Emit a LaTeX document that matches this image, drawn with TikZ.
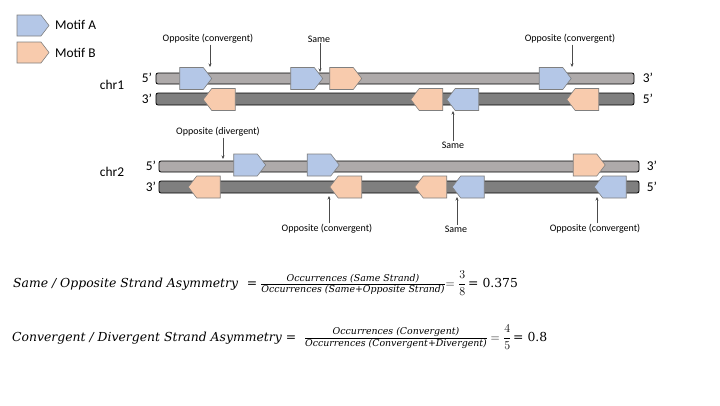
\documentclass[tikz,border=0pt]{standalone}
\usepackage{amsmath}
\usepackage{fontspec}
\setmainfont{Carlito}
\newfontfamily\eqfont{DejaVu Serif}
\usetikzlibrary{shapes.symbols}
\usetikzlibrary{arrows.meta}

\definecolor{motifA}{HTML}{B4C7E7}
\definecolor{motifB}{HTML}{F8CBAD}
\definecolor{motifedge}{HTML}{7F7F7F}
\definecolor{strandlight}{HTML}{AEAAAA}
\definecolor{stranddark}{HTML}{7F7F7F}

\newcommand{\fracfont}{\eqfont\itshape\fontsize{9.4}{10}\selectfont}
\newcommand{\ratio}[2]{$\genfrac{}{}{0.9pt}{1}{\hbox{\fracfont #1}}{\hbox{\fracfont #2}}$}

\begin{document}
\begin{tikzpicture}[x=1pt,y=-1pt, % one unit is one pixel of the reference, y down
    fwd/.style={signal, signal to=east, signal pointer angle=105, draw=motifedge, line width=0.6pt,
        minimum width=32pt, minimum height=22pt, inner sep=0pt, outer sep=0pt},
    rev/.style={fwd, signal to=west},
    topstrand/.style={draw=black, fill=strandlight, line width=0.8pt, rounded corners=2pt},
    botstrand/.style={topstrand, fill=stranddark},
    note/.style={font=\fontsize{10}{11}\selectfont, inner sep=1pt},
    pointer/.style={draw=black!70, line width=0.5pt, -{Stealth[length=3.5pt,width=3pt]}},
    chrlabel/.style={font=\fontsize{13.4}{15}\selectfont, inner sep=0pt},
    eqn/.style={font=\eqfont\fontsize{12.4}{14}\selectfont, inner sep=0pt, anchor=base},
    small/.style={font=\fontsize{11.5}{13}\selectfont, inner sep=0pt, anchor=base}]
    \useasboundingbox (0,0) rectangle (720,405);

    % legend
    \node[fwd, fill=motifA, minimum height=21pt] (legA) at (29,25.5) {};
    \node[fwd, fill=motifB, minimum height=21pt] (legB) at (29,52.5) {};
    \node[chrlabel, anchor=west] (legAtext) at (55,25) {Motif A};
    \node[chrlabel, anchor=west] (legBtext) at (55,53) {Motif B};

    % chr1
    \draw[topstrand] (156,73) rectangle (634,84);
    \draw[botstrand] (156,93) rectangle (634,105);
    \node[chrlabel] (chr1) at (112,85) {chr1};
    \node[chrlabel] (c1l5) at (147,78) {5’};
    \node[chrlabel] (c1l3) at (147,99) {3’};
    \node[chrlabel] (c1r3) at (648,78) {3’};
    \node[chrlabel] (c1r5) at (648,99) {5’};
    \node[fwd, fill=motifA] (c1a1) at (191.5,78.5) {};
    \node[fwd, fill=motifA] (c1a2) at (302.5,78.5) {};
    \node[fwd, fill=motifB] (c1b1) at (341.5,78.5) {};
    \node[fwd, fill=motifA] (c1a3) at (551,78.5) {};
    \node[rev, fill=motifB] (c1b2) at (223.5,99.5) {};
    \node[rev, fill=motifB] (c1b3) at (431,99.5) {};
    \node[rev, fill=motifA] (c1a4) at (467,99.5) {};
    \node[rev, fill=motifB] (c1b4) at (587,99.5) {};

    \node[note] (n1) at (208,39) {Opposite (convergent)};
    \node[note] (n2) at (319,39) {Same};
    \node[note] (n3) at (570,39) {Opposite (convergent)};
    \node[note] (n4) at (453,145) {Same};
    \coordinate (p1) at (210,67);
    \coordinate (p2) at (320,72);
    \coordinate (p3) at (572,67);
    \coordinate (p4) at (453,111);
    \draw[pointer] (n1.south -| p1) -- (p1);
    \draw[pointer] (n2.south -| p2) -- (p2);
    \draw[pointer] (n3.south -| p3) -- (p3);
    \draw[pointer] (n4.north -| p4) -- (p4);

    % chr2
    \draw[topstrand] (159,161) rectangle (639,172);
    \draw[botstrand] (159,181) rectangle (639,193);
    \node[chrlabel] (chr2) at (112,172) {chr2};
    \node[chrlabel] (c2l5) at (151,166) {5’};
    \node[chrlabel] (c2l3) at (151,187) {3’};
    \node[chrlabel] (c2r3) at (652,166) {3’};
    \node[chrlabel] (c2r5) at (652,187) {5’};
    \node[fwd, fill=motifA] (c2a1) at (245.5,165) {};
    \node[fwd, fill=motifA] (c2a2) at (319,165) {};
    \node[fwd, fill=motifB] (c2b1) at (585,165) {};
    \node[rev, fill=motifB] (c2b2) at (208.5,187) {};
    \node[rev, fill=motifB] (c2b3) at (350,187) {};
    \node[rev, fill=motifB] (c2b4) at (435,187) {};
    \node[rev, fill=motifA] (c2a3) at (472.5,187) {};
    \node[rev, fill=motifA] (c2a4) at (614.5,187) {};

    \node[note] (n5) at (218,132) {Opposite (divergent)};
    \node[note] (n6) at (327,229) {Opposite (convergent)};
    \node[note] (n7) at (456,229) {Same};
    \node[note] (n8) at (595,229) {Opposite (convergent)};
    \coordinate (p5) at (223,159);
    \coordinate (p6) at (329,196);
    \coordinate (p7) at (457,197);
    \coordinate (p8) at (597,197);
    \draw[pointer] (n5.south -| p5) -- (p5);
    \draw[pointer] (n6.north -| p6) -- (p6);
    \draw[pointer] (n7.north -| p7) -- (p7);
    \draw[pointer] (n8.north -| p8) -- (p8);

    % asymmetry formulas
    \node[eqn, anchor=base west] (same) at (13,287) {\itshape Same / Opposite Strand Asymmetry};
    \node[eqn] (sameeq) at (252,287) {=};
    \node[eqn] (samefrac) at (353,287) {\ratio{Occurrences (Same Strand)}{Occurrences (Same+Opposite Strand)}};
    \node[small] (sameval) at (456,287) {$=\dfrac{3}{8}$};
    \node[eqn, anchor=base west] (sameres) at (468,287) {= 0.375};

    \node[eqn, anchor=base west] (conv) at (12,341) {\itshape Convergent / Divergent Strand Asymmetry};
    \node[eqn] (conveq) at (291,341) {=};
    \node[eqn] (convfrac) at (396,341) {\ratio{Occurrences (Convergent)}{Occurrences (Convergent+Divergent)}};
    \node[small] (convval) at (501,341) {$=\dfrac{4}{5}$};
    \node[eqn, anchor=base west] (convres) at (513,341) {= 0.8};
\end{tikzpicture}
\end{document}
